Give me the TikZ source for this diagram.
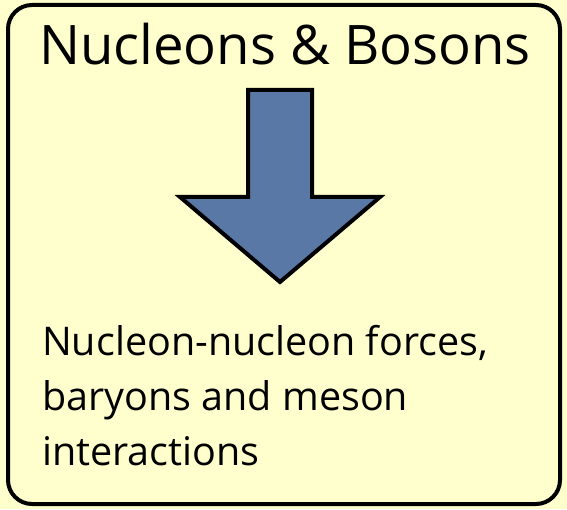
\documentclass[tikz,border=0pt]{standalone}
\usepackage{fontspec}
\setmainfont{Open Sans}
\usetikzlibrary{positioning}
\definecolor{paleyellow}{RGB}{255,255,206}
\definecolor{arrowblue}{RGB}{90,120,165}
\tikzset{
  frame/.style={draw=black, line width=4pt, rounded corners=24pt, fill=paleyellow},
  title/.style={font=\fontsize{54.5}{60}\selectfont, inner sep=0pt, anchor=base},
  body/.style={font=\fontsize{39.5}{55}\selectfont, inner sep=0pt, align=left, anchor=base west},
  bigarrow/.style={draw=black, line width=4pt, fill=arrowblue, line join=miter}
}
\begin{document}
\begin{tikzpicture}[x=1pt, y=1pt]
  \fill[paleyellow] (0,0) rectangle (567,509);
  \useasboundingbox (0,0) rectangle (567,509);
  \draw[frame] (8,5) rectangle (560,504);
  \node[title] (head) at (285,444) {Nucleons \& Bosons};
  % down arrow
  \draw[bigarrow] (248,419) -- (312,419) -- (312,312) -- (380,312)
    -- (280,227) -- (180,312) -- (248,312) -- cycle;
  % anchored on the baseline of the last line
  \node[body] (desc) at (42,44) {Nucleon-nucleon forces,\\baryons and meson\\interactions};
\end{tikzpicture}
\end{document}
